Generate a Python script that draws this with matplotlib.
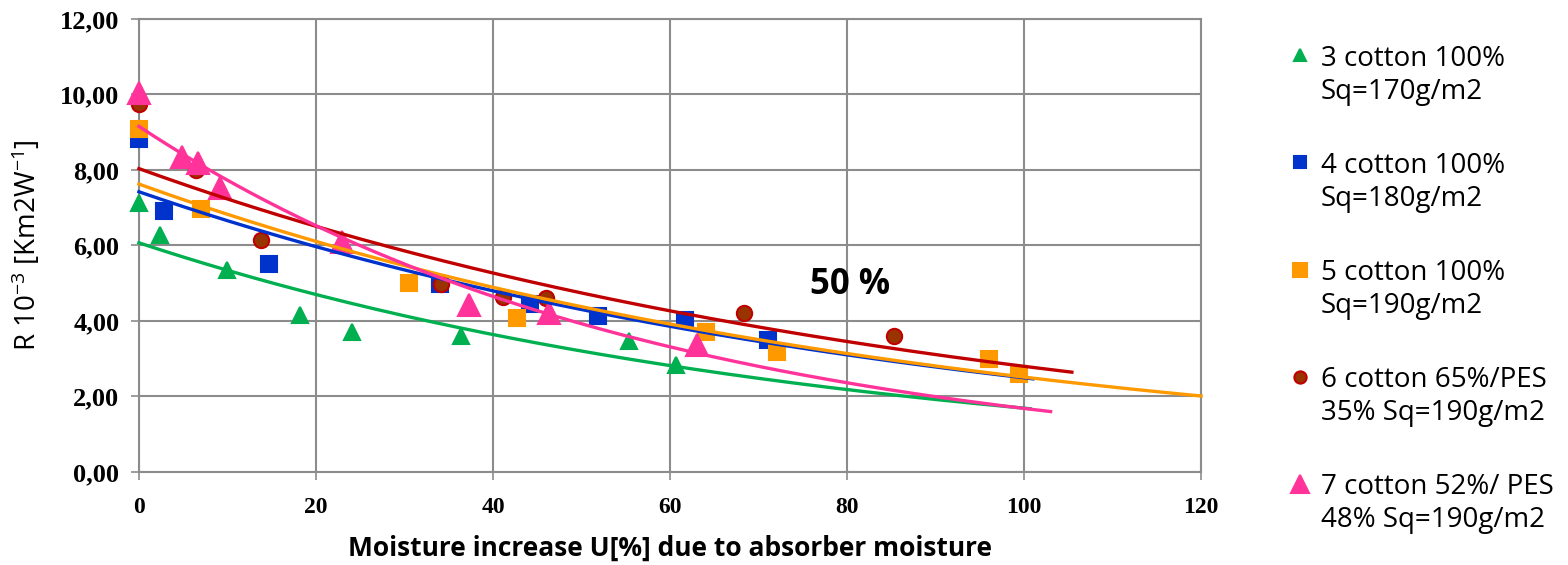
import numpy as np
import matplotlib
matplotlib.use("Agg")
import matplotlib.pyplot as plt
from matplotlib.lines import Line2D
from matplotlib.legend_handler import HandlerLine2D

plt.rcParams['mathtext.default'] = 'regular'

# measured points (U%, R 10^-3)
x3 = [0, 2.4, 9.9, 18.2, 24.1, 36.4, 55.4, 60.7]
y3 = [7.13, 6.28, 5.35, 4.16, 3.71, 3.60, 3.47, 2.83]

x4 = [0, 2.8, 14.7, 34.0, 44.2, 51.9, 61.7, 71.1]
y4 = [8.82, 6.91, 5.51, 4.98, 4.45, 4.13, 4.03, 3.50]

x5 = [0, 7.0, 30.5, 42.7, 64.1, 72.1, 96.0, 99.4]
y5 = [9.09, 6.97, 5.00, 4.08, 3.71, 3.18, 2.99, 2.60]

x6 = [0, 6.4, 13.8, 34.1, 41.1, 46.0, 68.4, 85.3]
y6 = [9.75, 8.00, 6.15, 4.98, 4.64, 4.61, 4.21, 3.60]

x7 = [0, 4.9, 6.7, 9.2, 22.9, 37.3, 46.3, 63.1]
y7 = [10.04, 8.35, 8.19, 7.52, 6.09, 4.42, 4.21, 3.36]

labels = ['3 cotton 100%\nSq=170g/m2',
          '4 cotton 100%\nSq=180g/m2',
          '5 cotton 100%\nSq=190g/m2',
          '6 cotton 65%/PES\n35% Sq=190g/m2',
          '7 cotton 52%/ PES\n48% Sq=190g/m2']

# where each exponential trendline stops
trend_end = [100.7, 101.0, 120.0, 105.4, 103.0]

xs = [x3, x4, x5, x6, x7]
ys = [y3, y4, y5, y6, y7]
line_colors = ['#00B050', '#0033CC', '#FF9900', '#C00000', '#FF3399']
face_colors = ['#00B050', '#0033CC', '#FF9900', '#993300', '#FF3399']
edge_colors = ['#00B050', '#0033CC', '#FF9900', '#C00000', '#FF3399']
markers = ['^', 's', 's', 'o', '^']
sizes = [11, 11, 12, 11, 16]


class FirstLineHandler(HandlerLine2D):
    # put the legend marker next to the first line of a two-line label
    def create_artists(self, legend, orig_handle, xdescent, ydescent,
                       width, height, fontsize, trans):
        arts = super().create_artists(legend, orig_handle, xdescent, ydescent,
                                      width, height, fontsize, trans)
        for a in arts:
            a.set_ydata(np.asarray(a.get_ydata()) + 0.75 * fontsize)
        return arts


fig = plt.figure(figsize=(15.68, 5.65), dpi=100)
ax = fig.add_axes([0.0886, 0.1646, 0.6774, 0.8018])

handles = []
for i in range(5):
    h, = ax.plot(xs[i], ys[i], linestyle='none', marker=markers[i], ms=sizes[i],
                 mfc=face_colors[i], mec=edge_colors[i], mew=1.5, zorder=3,
                 label=labels[i], clip_on=False)
    handles.append(h)
    # exponential trendline, same as Excel: fit ln(y) = a + b x
    b, a = np.polyfit(xs[i], np.log(ys[i]), 1)
    xx = np.linspace(0, trend_end[i], 200)
    ax.plot(xx, np.exp(a + b * xx), color=line_colors[i], lw=2.4, zorder=4,
            clip_on=False)

ax.set_xlim(0, 120)
ax.set_ylim(0, 12)
ax.set_xticks(np.arange(0, 121, 20))
ax.set_yticks(np.arange(0, 12.1, 2))
ax.set_yticklabels([('%.2f' % v).replace('.', ',') for v in np.arange(0, 12.1, 2)])
ax.grid(True, color='#8C8C8C', lw=1.5)
ax.set_axisbelow(True)
for s in ax.spines.values():
    s.set_color('#8C8C8C')
    s.set_linewidth(1.5)
ax.tick_params(colors='#8C8C8C', length=6, width=1.2, labelcolor='black')
ax.tick_params(axis='y', pad=8)
ax.tick_params(axis='x', pad=12)
for t in ax.get_yticklabels():
    t.set_fontfamily('Liberation Serif')
    t.set_fontweight('bold')
    t.set_fontsize(19)
for t in ax.get_xticklabels():
    t.set_fontfamily('Liberation Serif')
    t.set_fontweight('bold')
    t.set_fontsize(17)

ax.set_xlabel('Moisture increase U[%] due to absorber moisture',
              fontfamily='Open Sans', fontweight='bold', fontsize=19, labelpad=12)
ax.set_ylabel('R 10$^{-3}$ [Km2W$^{-1}$]', fontfamily='Open Sans',
              fontsize=20, labelpad=12)

ax.text(80.3, 4.95, '50 %', fontfamily='Open Sans', fontweight='bold',
        fontsize=25, ha='center', va='center')

leg = fig.legend(handles=handles, loc='upper left', bbox_to_anchor=(0.807, 0.965),
                 frameon=False, prop={'family': 'Open Sans', 'size': 20},
                 handlelength=0.7, handletextpad=0.4, labelspacing=1.65,
                 markerscale=0.8, handler_map={Line2D: FirstLineHandler()})
for t in leg.get_texts():
    t.set_linespacing(1.25)

fig.savefig('out.png', dpi=100)
